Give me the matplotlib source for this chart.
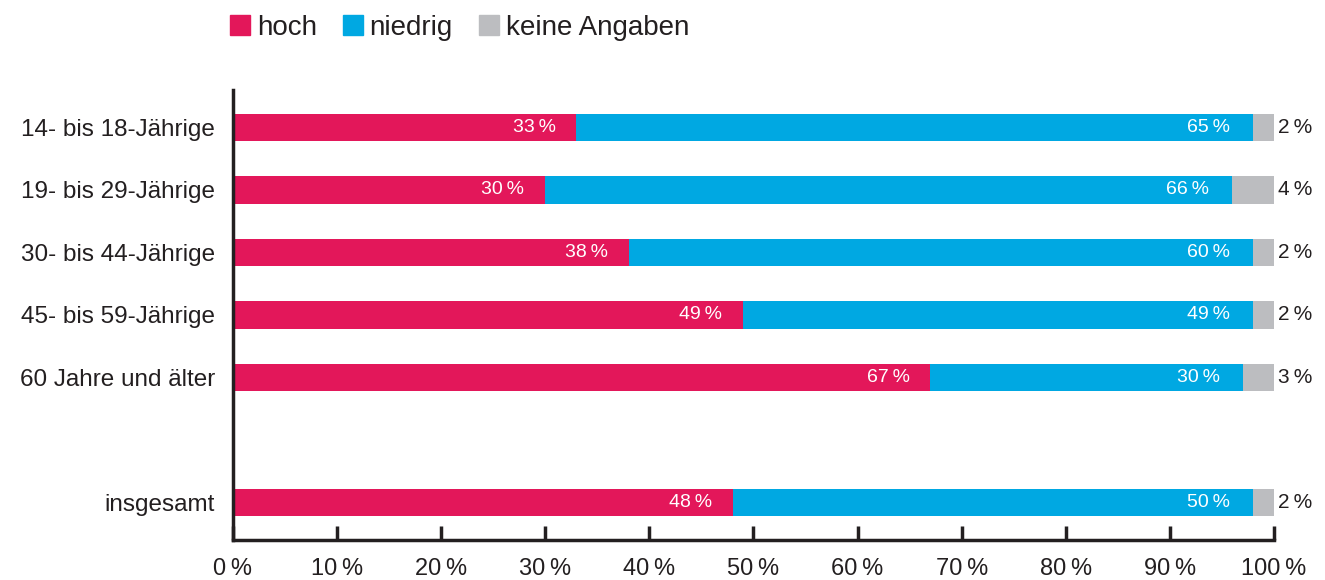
import matplotlib.pyplot as plt
from matplotlib.patches import Patch

plt.rcParams['font.family'] = ['Liberation Sans', 'DejaVu Sans']

groups = ['14- bis 18-Jährige', '19- bis 29-Jährige', '30- bis 44-Jährige',
          '45- bis 59-Jährige', '60 Jahre und älter', 'insgesamt']
positions = [0, 1, 2, 3, 4, 6]
hoch = [33, 30, 38, 49, 67, 48]
niedrig = [65, 66, 60, 49, 30, 50]
keine = [2, 4, 2, 2, 3, 2]

c_hoch = '#E3175A'
c_niedrig = '#00A8E2'
c_keine = '#BCBDC0'
c_text = '#231F20'

fig = plt.figure(figsize=(13.25, 5.8), dpi=100)
ax = fig.add_axes([0.1758, 0.069, 0.7857, 0.776])

h = 0.44
ax.barh(positions, hoch, height=h, color=c_hoch)
ax.barh(positions, niedrig, left=hoch, height=h, color=c_niedrig)
left2 = [a + b for a, b in zip(hoch, niedrig)]
ax.barh(positions, keine, left=left2, height=h, color=c_keine)

def pct(v):
    return f'{v}\u2009%'

for y, a, b, c in zip(positions, hoch, niedrig, keine):
    ax.text(a - 2.0, y, pct(a), color='white', ha='right', va='center', fontsize=14)
    ax.text(a + b - 2.2, y, pct(b), color='white', ha='right', va='center', fontsize=14)
    ax.text(100.4, y, pct(c), color=c_text, ha='left', va='center', fontsize=15)

ax.set_xlim(0, 100)
ax.set_ylim(6.6, -0.6)
ax.set_yticks(positions)
ax.set_yticklabels(groups, fontsize=17.5, color=c_text)
ax.set_xticks(range(0, 101, 10))
ax.set_xticklabels([pct(v) for v in range(0, 101, 10)], fontsize=17, color=c_text)
ax.tick_params(axis='y', length=0, pad=13)
ax.tick_params(axis='x', direction='in', length=10, width=2.5, color=c_text, pad=13)
for s in ['top', 'right']:
    ax.spines[s].set_visible(False)
for s in ['left', 'bottom']:
    ax.spines[s].set_linewidth(2.5)
    ax.spines[s].set_color(c_text)

handles = [Patch(color=c_hoch, label='hoch'),
           Patch(color=c_niedrig, label='niedrig'),
           Patch(color=c_keine, label='keine Angaben')]
leg = fig.legend(handles=handles, loc='upper left', bbox_to_anchor=(0.155, 1.018),
                 ncol=3, frameon=False, fontsize=20, handlelength=0.7,
                 handleheight=0.7, handletextpad=0.25, columnspacing=0.95)
for t in leg.get_texts():
    t.set_color(c_text)

plt.savefig('out.png', dpi=100)
